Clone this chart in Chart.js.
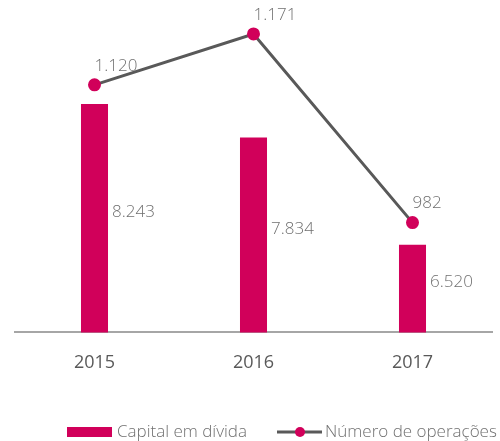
<!DOCTYPE html>
<html>
<head>
<meta charset="utf-8">
<script src="https://cdn.jsdelivr.net/npm/chart.js@4"></script>
<style>
  html, body { margin: 0; padding: 0; background: #fff; }
  #wrap { width: 500px; height: 441px; }
</style>
</head>
<body>
<div id="wrap"><canvas id="chart" width="500" height="441"></canvas></div>
<script>
const years = ['2015', '2016', '2017'];
const capitalEmDivida = [8243, 7834, 6520];
const numeroOperacoes = [1120, 1171, 982];
const seriesNames = ['Capital em dívida', 'Número de operações'];

const pink = '#d1005a';
const grey = '#595959';
const fontFamily = "'Open Sans', 'DejaVu Sans', sans-serif";

function fmt(v) {
  return String(v).replace(/\B(?=(\d{3})+(?!\d))/g, '.');
}

const labelsPlugin = {
  id: 'valueLabels',
  afterDatasetsDraw(chart) {
    const ctx = chart.ctx;
    const bottom = chart.chartArea.bottom;
    ctx.save();
    ctx.font = '300 17px ' + fontFamily;
    ctx.fillStyle = '#707070';
    ctx.textAlign = 'left';
    ctx.textBaseline = 'middle';

    // dataset 1 = bars, dataset 0 = line
    chart.getDatasetMeta(1).data.forEach((bar, i) => {
      const mid = (bar.y + bottom) / 2 - 6;
      ctx.fillText(fmt(capitalEmDivida[i]), bar.x + bar.width / 2 + 4, mid);
    });

    chart.getDatasetMeta(0).data.forEach((pt, i) => {
      ctx.fillText(fmt(numeroOperacoes[i]), pt.x, pt.y - 19);
    });
    ctx.restore();
  }
};

const legendPlugin = {
  id: 'bottomLegend',
  afterDraw(chart) {
    const ctx = chart.ctx;
    const y = 432;
    ctx.save();
    ctx.fillStyle = pink;
    ctx.fillRect(67, y - 5, 45, 10);

    ctx.strokeStyle = grey;
    ctx.lineWidth = 3;
    ctx.beginPath();
    ctx.moveTo(277, y);
    ctx.lineTo(322, y);
    ctx.stroke();
    ctx.beginPath();
    ctx.arc(300, y, 5, 0, Math.PI * 2);
    ctx.fillStyle = pink;
    ctx.fill();

    ctx.font = '300 17px ' + fontFamily;
    ctx.fillStyle = '#707070';
    ctx.textAlign = 'left';
    ctx.textBaseline = 'middle';
    ctx.fillText(seriesNames[0], 117, y);
    ctx.fillText(seriesNames[1], 325, y);
    ctx.restore();
  }
};

const chart = new Chart(document.getElementById('chart'), {
  data: {
    labels: years,
    datasets: [
      {
        type: 'line',
        label: seriesNames[1],
        data: numeroOperacoes,
        yAxisID: 'y1',
        borderColor: grey,
        borderWidth: 3,
        pointBackgroundColor: pink,
        pointBorderColor: pink,
        pointRadius: 5,
        tension: 0,
        order: 0
      },
      {
        type: 'bar',
        label: seriesNames[0],
        data: capitalEmDivida,
        yAxisID: 'y',
        backgroundColor: pink,
        categoryPercentage: 1,
        barPercentage: 0.17,
        order: 1
      }
    ]
  },
  options: {
    responsive: false,
    animation: false,
    layout: { padding: { left: 15, right: 7, top: 10, bottom: 47 } },
    plugins: {
      legend: { display: false },
      tooltip: { enabled: false }
    },
    scales: {
      x: {
        grid: { display: false, drawTicks: false },
        border: { display: true, color: '#a6a6a6', width: 2 },
        ticks: {
          color: grey,
          padding: 20,
          font: { family: fontFamily, size: 18 }
        }
      },
      y: { display: false, min: 5447, max: 9394 },
      y1: { display: false, min: 872, max: 1195 }
    }
  },
  plugins: [labelsPlugin, legendPlugin]
});
</script>
</body>
</html>
